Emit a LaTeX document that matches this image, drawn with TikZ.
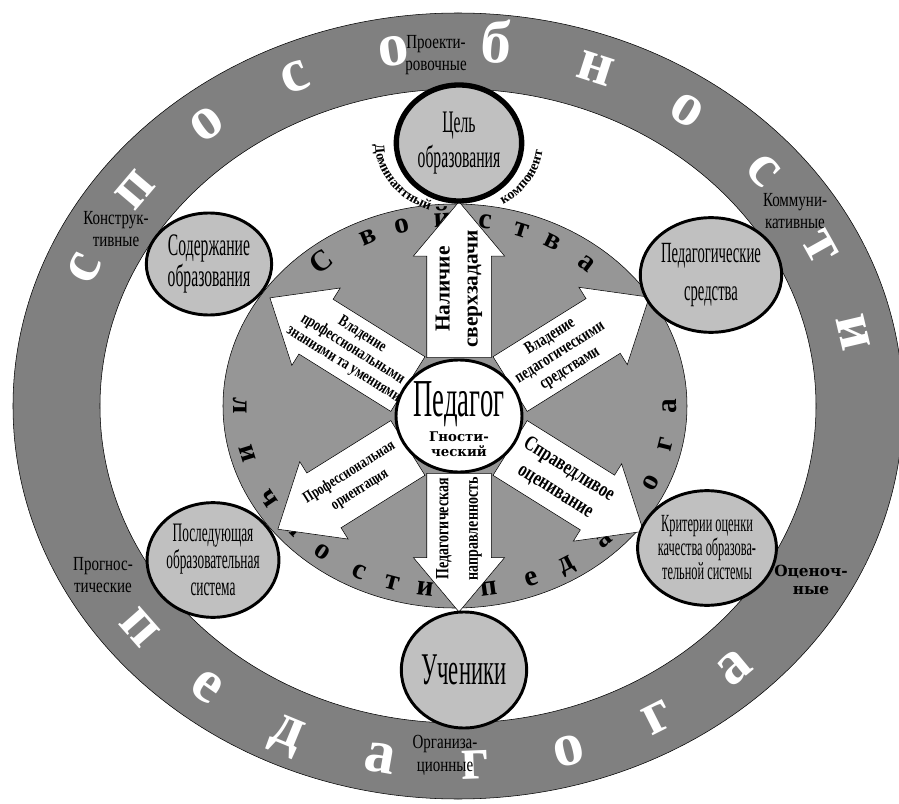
\documentclass[tikz,border=0pt]{standalone}
\usepackage{fontspec}
\setmainfont{Liberation Serif}
\newfontfamily\narrowfont[FakeStretch=0.5]{Liberation Serif}
\newfontfamily\semifont[FakeStretch=0.75]{Liberation Serif}
\newfontfamily\wideserif{DejaVu Serif}
\usetikzlibrary{arrows,shapes}
\usetikzlibrary{calc}
\usetikzlibrary{decorations.text}

\definecolor{ringgray}{RGB}{128,128,128}
\definecolor{midgray}{RGB}{150,150,150}
\definecolor{satgray}{RGB}{192,192,192}

\tikzset{
  sat/.style={ellipse, draw, line width=2.2pt, fill=satgray, inner sep=0pt,
    minimum width=94pt, minimum height=86pt, align=center},
  blockarrow/.style={single arrow, draw, fill=white, anchor=tail,
    single arrow head extend=10pt, single arrow tip angle=80,
    inner xsep=0pt, inner ysep=0pt, text height=24pt, text depth=24pt},
  arrtext/.style={align=center, inner sep=0pt},
  ringlabel/.style={align=center, font=\semifont\fontsize{15}{17}\selectfont},
  bigletter/.style={text=white, inner sep=0pt, text height=21pt, text depth=0pt,
    font=\bfseries\fontsize{46}{46}\selectfont},
  midletter/.style={inner sep=0pt, text height=10pt, text depth=0pt,
    font=\bfseries\fontsize{22}{22}\selectfont}
}

\begin{document}
\begin{tikzpicture}[x=0.75pt,y=0.75pt]
\useasboundingbox (-458,-397) rectangle (441,406);
% outer ring
\fill[ringgray, even odd rule] (0,0) ellipse (445 and 393) (0,0) ellipse (358 and 317);
\draw[thin] (0,0) ellipse (445 and 393);
\draw[thin] (0,0) ellipse (358 and 317);
\foreach \ch [count=\i from 0] in {с,п,о,с,о,б,н,о,с,т,и}
  \node[bigletter, rotate={atan2(-359*cos(157.5-14.57*\i),404*sin(157.5-14.57*\i))}]
    (abil\i) at ({157.5-14.57*\i}:404 and 359) {\ch};
\foreach \ch [count=\i from 0] in {п,е,д,а,г,о,г,а}
  \node[bigletter, rotate={atan2(359*cos(218+13.6*\i),-404*sin(218+13.6*\i))}]
    (teach\i) at ({218+13.6*\i}:404 and 359) {\ch};
\node[ringlabel] (design) at (-22,351) {Проекти-\\ровочные};
\node[ringlabel] (constr) at (-342,177) {Конструк-\\тивные};
\node[ringlabel] (commun) at (337,195) {Коммуни-\\кативные};
\node[ringlabel] (progn) at (-355,-169) {Прогнос-\\тические};
\node[align=center, font=\wideserif\bfseries\fontsize{11.5}{13}\selectfont] (evalr) at (353,-174) {Оценоч-\\ные};
\node[ringlabel] (organ) at (-13,-349) {Организа-\\ционные};
% personal properties
\fill[midgray] (-3,0) ellipse (232 and 202);
\draw[thin] (-3,0) ellipse (232 and 202);
\begin{scope}[shift={(-3,0)}]
\foreach \ch/\t [count=\i] in {С/130,в/115,о/105,й/93.6,с/81.6,т/71,в/61.6,а/50.2}
  \node[midletter, rotate={atan2(-186*cos(\t),205*sin(\t))}] (prop\i) at (\t:205 and 186) {\ch};
\foreach \ch/\t [count=\i] in {л/180,и/195,ч/210,н/221,о/232,с/243.6,т/253,и/262,п/279,е/291,д/301,а/313.7,г/324.6,о/335.5,г/348,а/360}
  \node[midletter, rotate={atan2(185*cos(\t),-215*sin(\t))}] (pers\i) at (\t:215 and 185) {\ch};
\end{scope}
% arrows
\coordinate (hub) at (1,-10);
\node[blockarrow, rotate=90, minimum height=117pt] (aim) at ([shift={(90:58)}]hub) {};
\node[blockarrow, rotate=270, minimum height=104pt] (orient) at ([shift={(270:57)}]hub) {};
\node[blockarrow, rotate=148, minimum height=122pt] (know) at ([shift={(148:60)}]hub) {};
\node[blockarrow, rotate=32, minimum height=123pt] (tools) at ([shift={(32:60)}]hub) {};
\node[blockarrow, rotate=212, minimum height=115pt] (prof) at ([shift={(212:60)}]hub) {};
\node[blockarrow, rotate=328, minimum height=118pt] (fair) at ([shift={(328:60)}]hub) {};
\node[arrtext, rotate=90, font=\bfseries\fontsize{16}{21}\selectfont] (aimtxt) at ($(aim.tail)!0.44!(aim.tip)$) {Наличие\\сверхзадачи};
\node[arrtext, rotate=90, font=\semifont\bfseries\fontsize{14}{22}\selectfont] (orienttxt) at ($(orient.tail)!0.4!(orient.tip)$) {Педагогическая\\направленность};
\node[arrtext, rotate=-32, font=\semifont\bfseries\fontsize{12.5}{13}\selectfont] (knowtxt) at ($(know.tail)!0.4!(know.tip)$) {Владение\\профессиональными\\знаниями та умениями};
\node[arrtext, rotate=32, font=\semifont\bfseries\fontsize{13}{14}\selectfont] (toolstxt) at ($(tools.tail)!0.36!(tools.tip)$) {Владение\\педагогическими\\средствами};
\node[arrtext, rotate=32, font=\semifont\bfseries\fontsize{12}{15}\selectfont] (proftxt) at ($(prof.tail)!0.41!(prof.tip)$) {Профессиональная\\ориентация};
\node[arrtext, rotate=-32, font=\semifont\bfseries\fontsize{16}{19}\selectfont] (fairtxt) at ($(fair.tail)!0.39!(fair.tip)$) {Справедливое\\оценивание};
% teacher
\node[ellipse, draw, line width=2.2pt, fill=white, minimum width=94.5pt, minimum height=84pt] (ped) at (hub) {};
\node[anchor=base, font=\narrowfont\fontsize{40}{40}\selectfont] (pedname) at (1,-11) {Педагог};
\node[align=center, font=\wideserif\bfseries\fontsize{10}{11}\selectfont] (pedrole) at (1,-38) {Гности-\\ческий};
% satellites
\node[sat, line width=4pt, minimum height=87pt, font=\narrowfont\fontsize{23.5}{26}\selectfont] (goal) at (1,263) {Цель\\образования};
\node[sat, minimum height=76.5pt, font=\narrowfont\fontsize{23.5}{20}\selectfont] (content) at (-249,142) {Содержание\\образования};
\node[sat, font=\narrowfont\fontsize{22}{29}\selectfont] (means) at (253,131) {Педагогические\\средства};
\node[sat, font=\narrowfont\fontsize{20}{20}\selectfont] (nextsys) at (-245,-154) {Последующая\\образовательная\\система};
\node[sat, font=\narrowfont\fontsize{18.5}{18}\selectfont] (criteria) at (249,-142) {Критерии оценки\\качества образова-\\тельной системы};
\node[sat, minimum height=87pt, font=\narrowfont\fontsize{34}{34}\selectfont] (pupils) at (6,-264) {Ученики};
% dominant component
\path[decorate, decoration={text along path, text align=center,
  text={|\bfseries\fontsize{10.5}{11}\selectfont|Доминантный}}]
  ([shift={(176:84 and 72)}]goal.center) arc[start angle=176, end angle=254, x radius=84, y radius=72];
\path[decorate, decoration={text along path, text align=center,
  text={|\bfseries\fontsize{10.5}{11}\selectfont|компонент}}]
  ([shift={(296:84 and 72)}]goal.center) arc[start angle=296, end angle=360, x radius=84, y radius=72];
\end{tikzpicture}
\end{document}
